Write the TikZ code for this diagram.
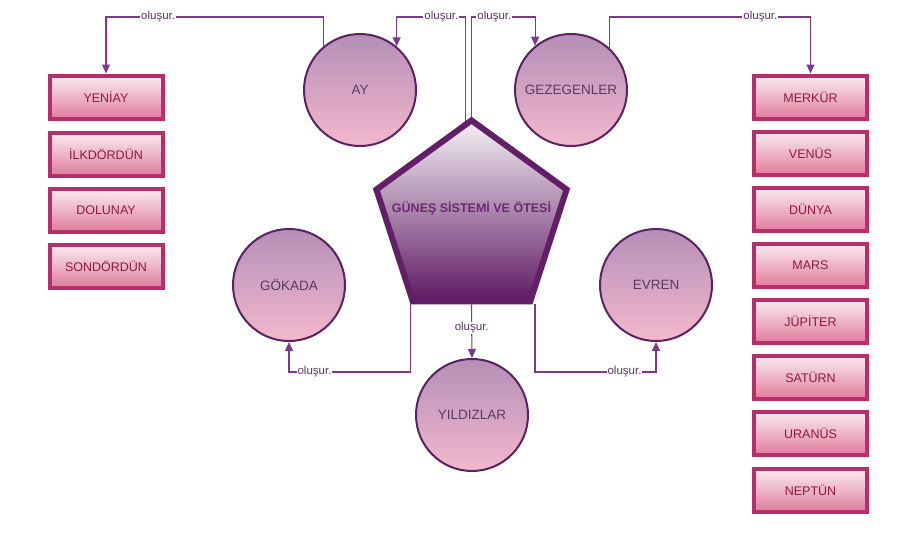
\documentclass[tikz,border=0pt]{standalone}
\usepackage{fontspec}
\setmainfont{Liberation Sans}
\usetikzlibrary{shapes.geometric,arrows.meta,shadows}
\definecolor{boxborder}{HTML}{B82E68}
\definecolor{boxtop}{HTML}{FBECF2}
\definecolor{boxbot}{HTML}{E07C9C}
\definecolor{boxtext}{HTML}{8A1A42}
\definecolor{circborder}{HTML}{5C2261}
\definecolor{circtop}{HTML}{B48FB8}
\definecolor{circbot}{HTML}{F3B8CC}
\definecolor{circtext}{HTML}{5A3A5E}
\definecolor{pentborder}{HTML}{621E66}
\definecolor{pentop}{HTML}{F6F0F6}
\definecolor{pentbot}{HTML}{5E1A62}
\definecolor{pentext}{HTML}{6A2A6E}
\definecolor{conncol}{HTML}{7B3B88}
\definecolor{lbltext}{HTML}{5B3560}
\begin{document}
\begin{tikzpicture}[x=1pt,y=-1pt,
  planet/.style={draw=boxborder, line width=4pt, top color=boxtop, bottom color=boxbot,
    minimum width=113pt, minimum height=43pt, inner sep=0pt,
    font=\fontsize{12.5}{14}\selectfont, text=boxtext},
  topic/.style={circle, draw=circborder, line width=2pt, top color=circtop, bottom color=circbot,
    minimum size=112pt, inner sep=0pt, font=\fontsize{13.5}{15}\selectfont, text=circtext},
  conn/.style={draw=conncol, line width=1.1pt, -{Triangle[length=9pt,width=8pt]}},
  lbl/.style={fill=white, inner sep=1pt, font=\fontsize{11.5}{13}\selectfont, text=lbltext}]
\useasboundingbox[fill=white] (0,0) rectangle (912,533);
\coordinate (top) at (0,17);
\coordinate (bot) at (0,372);
% pentagon
\node[regular polygon, regular polygon sides=5, minimum size=200pt, inner sep=0pt,
  draw=pentborder, line width=6pt, top color=pentop, bottom color=pentbot,
  drop shadow={opacity=0.18, shadow xshift=0pt, shadow yshift=-2pt}] (P) at (471.5,220.4) {};
\node[font=\bfseries\fontsize{12.5}{14}\selectfont, text=pentext] (PT) at (471.5,208) {GÜNEŞ SİSTEMİ VE ÖTESİ};
% circles
\node[topic] (AY) at (360,90) {AY};
\node[topic] (GZ) at (571,90) {GEZEGENLER};
\node[topic] (GK) at (289,285) {GÖKADA};
\node[topic] (EV) at (656,285) {EVREN};
\node[topic] (YD) at (472,415) {YILDIZLAR};
% left boxes
\node[planet] (L1) at (106,97) {YENİAY};
\node[planet] (L2) at (106,154) {İLKDÖRDÜN};
\node[planet] (L3) at (106,210) {DOLUNAY};
\node[planet] (L4) at (106,266) {SONDÖRDÜN};
% right boxes
\node[planet] (R1) at (810.5,97) {MERKÜR};
\node[planet] (R2) at (810.5,153) {VENÜS};
\node[planet] (R3) at (810.5,209) {DÜNYA};
\node[planet] (R4) at (810.5,265) {MARS};
\node[planet] (R5) at (810.5,321) {JÜPİTER};
\node[planet] (R6) at (810.5,377) {SATÜRN};
\node[planet] (R7) at (810.5,433) {URANÜS};
\node[planet] (R8) at (810.5,490) {NEPTÜN};
% connectors
\coordinate (ptl) at ([xshift=-6pt,yshift=-4pt]P.corner 1);
\draw[conn] (AY.130) -- (AY.130 |- top) -- node[lbl,pos=0.76]{oluşur.} (L1.north |- top) -- (L1.north);
\draw[conn] (ptl) -- (ptl |- top) -- node[lbl,pos=0.35]{oluşur.} (AY.50 |- top) -- (AY.50);
\draw[conn] (P.corner 1) -- (P.corner 1 |- top) -- node[lbl,pos=0.36]{oluşur.} (GZ.129 |- top) -- (GZ.129);
\draw[conn] (GZ.47) -- (GZ.47 |- top) -- node[lbl,pos=0.75]{oluşur.} (R1.north |- top) -- (R1.north);
\draw[conn] (P.south) -- node[lbl,pos=0.44]{oluşur.} (YD.north);
\coordinate (pbl) at (P.corner 3);
\coordinate (pbr) at ([xshift=2.5pt]P.corner 4);
\draw[conn] (pbl) -- (pbl |- bot) -- node[lbl,pos=0.79]{oluşur.} (GK.south |- bot) -- (GK.south);
\draw[conn] (pbr) -- (pbr |- bot) -- node[lbl,pos=0.74]{oluşur.} (EV.south |- bot) -- (EV.south);
\end{tikzpicture}
\end{document}
